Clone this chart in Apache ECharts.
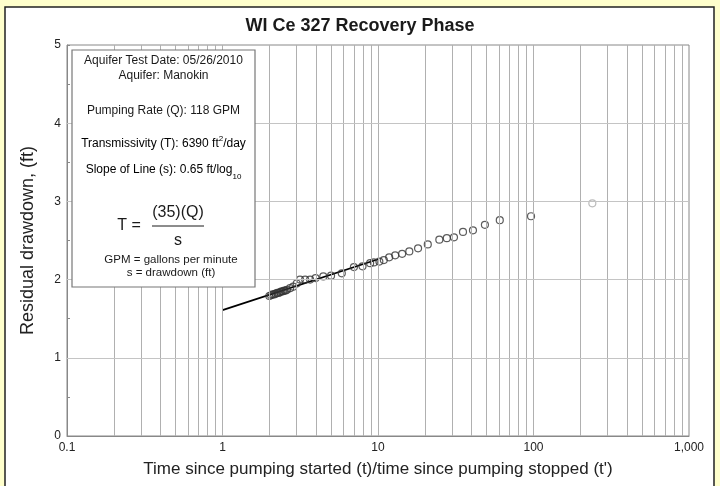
<!DOCTYPE html>
<html><head><meta charset="utf-8">
<script src="https://cdn.jsdelivr.net/npm/echarts@6/dist/echarts.min.js"></script>
<style>html,body{margin:0;padding:0;background:#FFFFCC;}#c{width:720px;height:486px;}</style>
</head><body><div id="c"></div>
<script>
// ---- data ----
const titleText = 'WI Ce 327 Recovery Phase';
const xAxisName = "Time since pumping started (t)/time since pumping stopped (t')";
const yAxisName = 'Residual drawdown, (ft)';
const xTickValues = [0.1, 1, 10, 100, 1000];
const xTickLabels = ['0.1', '1', '10', '100', '1,000'];
const xGridValues = [0.2,0.3,0.4,0.5,0.6,0.7,0.8,0.9,1,2,3,4,5,6,7,8,9,10,20,30,40,50,60,70,80,90,100,200,300,400,500,600,700,800,900];
const yGridValues = [1, 2, 3, 4];
const ratioT = [2.0,2.05,2.1,2.15,2.2,2.25,2.3,2.35,2.4,2.45,2.5,2.55,2.6,2.72,2.85,3.0,3.15,3.4,3.66,3.97,4.45,4.99,5.85,7.0,7.95,8.9,9.4,10.2,10.9,11.8,12.9,14.3,15.9,18.1,20.9,24.8,27.7,30.8,35.2,40.8,48.7,60.7,96.4];
const drawdown = [1.79,1.80,1.81,1.81,1.82,1.83,1.83,1.84,1.85,1.85,1.86,1.86,1.87,1.89,1.91,1.95,2.00,2.00,2.00,2.02,2.04,2.05,2.08,2.16,2.17,2.21,2.22,2.23,2.25,2.285,2.31,2.33,2.36,2.40,2.45,2.51,2.53,2.54,2.61,2.63,2.70,2.76,2.81];
const excludedT = [239];
const excludedS = [2.976];
const fitT = [1, 10];
const fitS = [1.61, 2.26];
const infoLines = ['Aquifer Test Date: 05/26/2010', 'Aquifer: Manokin', 'Pumping Rate (Q): 118 GPM'];
const formulaNum = '(35)(Q)';
const formulaDen = 's';
const legendNotes = ['GPM = gallons per minute', 's = drawdown (ft)'];

// ---- chart ----
const chart = echarts.init(document.getElementById('c'), null, {renderer: 'canvas'});
const FF = 'Liberation Sans, Arial, sans-serif';
const pts = ratioT.map((t, i) => [t, drawdown[i]]);
const exPts = excludedT.map((t, i) => [t, excludedS[i]]);
const fitPts = fitT.map((t, i) => [t, fitS[i]]);

const boxX = 72, boxY = 50, boxW = 183, boxH = 237, cx = boxX + boxW / 2;
const txt = (t, x, y, size, extra) => Object.assign({
  type: 'text', z: 100, style: {text: t, x: x, y: y, fill: '#1a1a1a', font: size + 'px ' + FF, textAlign: 'center', textVerticalAlign: 'middle'}
}, extra || {});

chart.setOption({
  backgroundColor: '#FFFFCC',
  animation: false,
  title: {text: titleText, left: 'center', top: 12, textStyle: {fontFamily: FF, fontSize: 18, fontWeight: 'bold', color: '#1a1a1a'}},
  grid: {left: 67, right: 31, top: 45, bottom: 50, show: true, borderColor: '#888', borderWidth: 1, backgroundColor: '#fff'},
  xAxis: {
    type: 'log', logBase: 10, min: 0.1, max: 1000,
    name: xAxisName, nameLocation: 'middle', nameGap: 25,
    nameTextStyle: {fontFamily: FF, fontSize: 17, color: '#222'},
    axisLine: {lineStyle: {color: '#888'}},
    axisTick: {show: false},
    splitLine: {show: false},
    axisLabel: {fontFamily: FF, fontSize: 12, color: '#222', margin: 6,
      formatter: v => { const i = xTickValues.findIndex(u => Math.abs(Math.log10(u) - Math.log10(v)) < 1e-6); return i >= 0 ? xTickLabels[i] : ''; }}
  },
  yAxis: {
    type: 'value', min: 0, max: 5, interval: 0.5,
    name: yAxisName, nameLocation: 'middle', nameGap: 30,
    nameTextStyle: {fontFamily: FF, fontSize: 18, color: '#222'},
    axisLine: {show: true, lineStyle: {color: '#888'}},
    axisTick: {show: true, inside: false, length: -3, lineStyle: {color: '#888'}},
    splitLine: {show: false},
    axisLabel: {fontFamily: FF, fontSize: 12, color: '#222', margin: 6,
      formatter: v => (Math.abs(v - Math.round(v)) < 1e-6 ? String(Math.round(v)) : '')}
  },
  graphic: [
    {type: 'rect', z: -100, zlevel: 0, shape: {x: 5, y: 7, width: 709, height: 486}, style: {fill: '#fff', stroke: '#222', lineWidth: 1.5}},
    {type: 'rect', z: 99, shape: {x: boxX, y: boxY, width: boxW, height: boxH}, style: {fill: '#fff', stroke: '#777', lineWidth: 1.2}},
    txt(infoLines[0], cx, 61, 12),
    txt(infoLines[1], cx, 76, 12),
    txt(infoLines[2], cx, 111, 12),
    {type: 'text', z: 100, style: {text: '{a|Transmissivity (T): 6390 ft}{sup|2}{a|/day}', x: cx, y: 142, textAlign: 'center', textVerticalAlign: 'middle',
      rich: {a: {fontSize: 12, fontFamily: FF, color: '#1a1a1a', lineHeight: 15, verticalAlign: 'bottom'}, sup: {fontSize: 8, fontFamily: FF, color: '#1a1a1a', lineHeight: 15, verticalAlign: 'top'}}}},
    {type: 'text', z: 100, style: {text: '{a|Slope of Line (s): 0.65 ft/log}{sub|10}', x: cx, y: 172, textAlign: 'center', textVerticalAlign: 'middle',
      rich: {a: {fontSize: 12, fontFamily: FF, color: '#1a1a1a', lineHeight: 17, verticalAlign: 'top'}, sub: {fontSize: 8, fontFamily: FF, color: '#1a1a1a', lineHeight: 17, verticalAlign: 'bottom'}}}},
    txt('T =', 129, 226, 16),
    txt(formulaNum, 178, 213, 16),
    {type: 'line', z: 100, shape: {x1: 152, y1: 226, x2: 204, y2: 226}, style: {stroke: '#1a1a1a', lineWidth: 1}},
    txt(formulaDen, 178, 241, 16),
    txt(legendNotes[0], 171, 260, 11.5),
    txt(legendNotes[1], 171, 273, 11.5)
  ],
  series: [
    {type: 'line', data: fitPts, symbol: 'none', lineStyle: {color: '#000', width: 1.8}, z: 3,
      markLine: {silent: true, symbol: 'none', label: {show: false}, lineStyle: {color: '#b0b0b0', width: 1, type: 'solid'},
        data: xGridValues.map(v => ({xAxis: v})).concat(yGridValues.map(v => ({yAxis: v, lineStyle: {color: '#c4c4c4', width: 1, type: 'solid'}})))}},
    {type: 'scatter', data: pts, symbol: 'circle', symbolSize: 7, itemStyle: {color: 'rgba(255,255,255,0)', borderColor: '#333', borderWidth: 1.2}, z: 4},
    {type: 'scatter', data: exPts, symbol: 'circle', symbolSize: 7, itemStyle: {color: 'rgba(255,255,255,0)', borderColor: '#aaa', borderWidth: 1.2}, z: 4}
  ]
});
</script></body></html>
